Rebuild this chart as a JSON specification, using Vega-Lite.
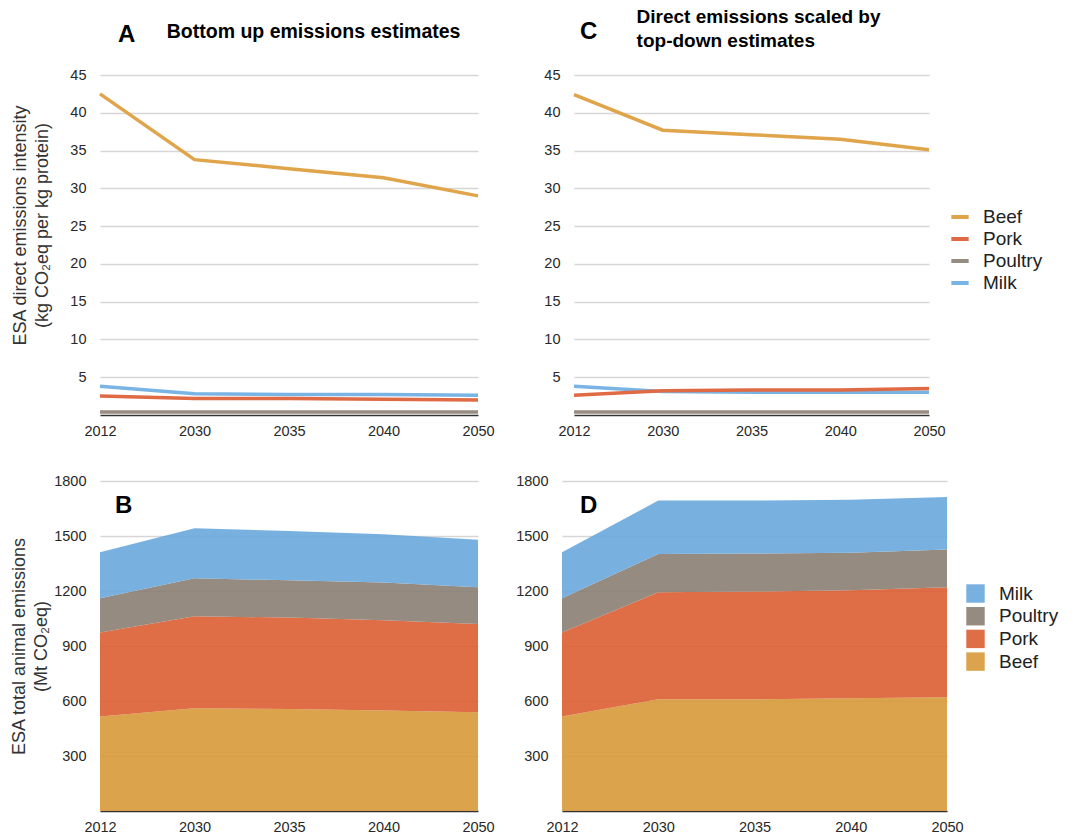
{
  "$schema": "https://vega.github.io/schema/vega-lite/v6.json",
  "padding": {"left": 10, "top": 8, "right": 0, "bottom": 0},
  "background": "white",
  "config": {
    "font": "Liberation Sans",
    "view": {"stroke": null},
    "axis": {"labelFont": "Liberation Sans", "labelFontSize": 14.5, "labelColor": "#282828", "titleFont": "Liberation Sans", "titleFontSize": 18, "titleFontWeight": "normal", "titleColor": "#333"},
    "axisX": {"domainColor": "#333", "domainWidth": 1.5, "ticks": false, "labelAngle": 0, "labelPadding": 9, "grid": false},
    "axisY": {"domain": false, "ticks": false, "grid": true, "gridColor": "#d6d6d6", "gridWidth": 1.5, "labelPadding": 14, "format": "d"},
    "legend": {"labelFont": "Liberation Sans", "labelFontSize": 19, "labelColor": "#222", "padding": 0},
    "title": {"font": "Liberation Sans", "color": "#000", "subtitleFont": "Liberation Sans", "subtitleColor": "#000"}
  },
  "datasets": {
    "intensityA": [
      {"year": "2012", "animal": "Milk", "value": 3.8},
      {"year": "2030", "animal": "Milk", "value": 2.8},
      {"year": "2035", "animal": "Milk", "value": 2.7},
      {"year": "2040", "animal": "Milk", "value": 2.7},
      {"year": "2050", "animal": "Milk", "value": 2.6},
      {"year": "2012", "animal": "Poultry", "value": 0.4},
      {"year": "2030", "animal": "Poultry", "value": 0.4},
      {"year": "2035", "animal": "Poultry", "value": 0.4},
      {"year": "2040", "animal": "Poultry", "value": 0.4},
      {"year": "2050", "animal": "Poultry", "value": 0.4},
      {"year": "2012", "animal": "Pork", "value": 2.5},
      {"year": "2030", "animal": "Pork", "value": 2.2},
      {"year": "2035", "animal": "Pork", "value": 2.2},
      {"year": "2040", "animal": "Pork", "value": 2.1},
      {"year": "2050", "animal": "Pork", "value": 2.0},
      {"year": "2012", "animal": "Beef", "value": 42.5},
      {"year": "2030", "animal": "Beef", "value": 33.8},
      {"year": "2035", "animal": "Beef", "value": 32.6},
      {"year": "2040", "animal": "Beef", "value": 31.4},
      {"year": "2050", "animal": "Beef", "value": 29.0}
    ],
    "intensityC": [
      {"year": "2012", "animal": "Milk", "value": 3.8},
      {"year": "2030", "animal": "Milk", "value": 3.1},
      {"year": "2035", "animal": "Milk", "value": 3.0},
      {"year": "2040", "animal": "Milk", "value": 3.0},
      {"year": "2050", "animal": "Milk", "value": 3.0},
      {"year": "2012", "animal": "Poultry", "value": 0.4},
      {"year": "2030", "animal": "Poultry", "value": 0.4},
      {"year": "2035", "animal": "Poultry", "value": 0.4},
      {"year": "2040", "animal": "Poultry", "value": 0.4},
      {"year": "2050", "animal": "Poultry", "value": 0.4},
      {"year": "2012", "animal": "Pork", "value": 2.6},
      {"year": "2030", "animal": "Pork", "value": 3.2},
      {"year": "2035", "animal": "Pork", "value": 3.3},
      {"year": "2040", "animal": "Pork", "value": 3.3},
      {"year": "2050", "animal": "Pork", "value": 3.5},
      {"year": "2012", "animal": "Beef", "value": 42.4},
      {"year": "2030", "animal": "Beef", "value": 37.7},
      {"year": "2035", "animal": "Beef", "value": 37.1},
      {"year": "2040", "animal": "Beef", "value": 36.5},
      {"year": "2050", "animal": "Beef", "value": 35.1}
    ],
    "totalB": [
      {"year": "2012", "animal": "Beef", "value": 515},
      {"year": "2030", "animal": "Beef", "value": 560},
      {"year": "2035", "animal": "Beef", "value": 556},
      {"year": "2040", "animal": "Beef", "value": 548},
      {"year": "2050", "animal": "Beef", "value": 538},
      {"year": "2012", "animal": "Pork", "value": 459},
      {"year": "2030", "animal": "Pork", "value": 502},
      {"year": "2035", "animal": "Pork", "value": 499},
      {"year": "2040", "animal": "Pork", "value": 492},
      {"year": "2050", "animal": "Pork", "value": 482},
      {"year": "2012", "animal": "Poultry", "value": 186},
      {"year": "2030", "animal": "Poultry", "value": 207},
      {"year": "2035", "animal": "Poultry", "value": 203},
      {"year": "2040", "animal": "Poultry", "value": 207},
      {"year": "2050", "animal": "Poultry", "value": 200},
      {"year": "2012", "animal": "Milk", "value": 251},
      {"year": "2030", "animal": "Milk", "value": 273},
      {"year": "2035", "animal": "Milk", "value": 269},
      {"year": "2040", "animal": "Milk", "value": 262},
      {"year": "2050", "animal": "Milk", "value": 260}
    ],
    "totalD": [
      {"year": "2012", "animal": "Beef", "value": 515},
      {"year": "2030", "animal": "Beef", "value": 609},
      {"year": "2035", "animal": "Beef", "value": 609},
      {"year": "2040", "animal": "Beef", "value": 615},
      {"year": "2050", "animal": "Beef", "value": 620},
      {"year": "2012", "animal": "Pork", "value": 459},
      {"year": "2030", "animal": "Pork", "value": 584},
      {"year": "2035", "animal": "Pork", "value": 588},
      {"year": "2040", "animal": "Pork", "value": 589},
      {"year": "2050", "animal": "Pork", "value": 600},
      {"year": "2012", "animal": "Poultry", "value": 186},
      {"year": "2030", "animal": "Poultry", "value": 209},
      {"year": "2035", "animal": "Poultry", "value": 207},
      {"year": "2040", "animal": "Poultry", "value": 205},
      {"year": "2050", "animal": "Poultry", "value": 206},
      {"year": "2012", "animal": "Milk", "value": 251},
      {"year": "2030", "animal": "Milk", "value": 291},
      {"year": "2035", "animal": "Milk", "value": 289},
      {"year": "2040", "animal": "Milk", "value": 289},
      {"year": "2050", "animal": "Milk", "value": 287}
    ]
  },
  "resolve": {"scale": {"color": "independent", "x": "independent", "y": "independent"}, "legend": {"color": "independent"}, "axis": {"x": "independent", "y": "independent"}},
  "spacing": 35,
  "vconcat": [
    {
      "spacing": 48,
      "resolve": {"scale": {"color": "independent", "x": "independent", "y": "independent"}, "legend": {"color": "independent"}},
      "hconcat": [
        {
          "width": 378, "height": 340,
          "data": {"name": "intensityA"},
          "title": {"text": "A", "subtitle": "\u200b\u00a0\u00a0\u00a0\u00a0\u00a0\u00a0\u00a0\u00a0\u00a0Bottom up emissions estimates", "anchor": "start", "frame": "group", "dx": 18, "fontSize": 24, "fontWeight": "bold", "subtitleFontSize": 19.5, "subtitleFontWeight": "bold", "subtitlePadding": -24, "offset": 19},
          "mark": {"type": "line", "strokeWidth": 3.5},
          "encoding": {
            "x": {"field": "year", "type": "ordinal", "sort": null, "scale": {"type": "point", "padding": 0}, "axis": {"title": null}},
            "y": {"field": "value", "type": "quantitative", "scale": {"domain": [0, 45], "nice": false}, "axis": {"values": [5, 10, 15, 20, 25, 30, 35, 40, 45], "title": ["ESA direct emissions intensity", "(kg CO\u2082eq per kg protein)"], "titleLineHeight": 22, "minExtent": 48, "maxExtent": 48, "titlePadding": 1, "titleY": 150}},
            "color": {"field": "animal", "type": "nominal", "scale": {"domain": ["Beef", "Pork", "Poultry", "Milk"], "range": ["#E0A44A", "#E06A44", "#978C82", "#79B4E4"]}, "legend": null}
          }
        },
        {
          "width": 355, "height": 340,
          "data": {"name": "intensityC"},
          "title": {"text": "C", "subtitle": ["\u200b\u00a0\u00a0\u00a0\u00a0\u00a0\u00a0\u00a0\u00a0\u00a0\u00a0\u2009Direct emissions scaled by", "\u200b\u00a0\u00a0\u00a0\u00a0\u00a0\u00a0\u00a0\u00a0\u00a0\u00a0\u2009top-down estimates"], "anchor": "start", "frame": "group", "dx": 6, "fontSize": 24, "fontWeight": "bold", "subtitleFontSize": 19, "subtitleFontWeight": "bold", "subtitleLineHeight": 24, "subtitlePadding": -36, "offset": 4},
          "mark": {"type": "line", "strokeWidth": 3.5},
          "encoding": {
            "x": {"field": "year", "type": "ordinal", "sort": null, "scale": {"type": "point", "padding": 0}, "axis": {"title": null}},
            "y": {"field": "value", "type": "quantitative", "scale": {"domain": [0, 45], "nice": false}, "axis": {"values": [5, 10, 15, 20, 25, 30, 35, 40, 45], "title": null}},
            "color": {"field": "animal", "type": "nominal", "scale": {"domain": ["Beef", "Pork", "Poultry", "Milk"], "range": ["#E0A44A", "#E06A44", "#978C82", "#79B4E4"]}, "legend": {"title": null, "orient": "none", "legendX": 375, "legendY": 131, "symbolType": "stroke", "symbolSize": 300, "symbolStrokeWidth": 4, "rowPadding": 1, "labelOffset": 12}}
          }
        }
      ]
    },
    {
      "spacing": 20,
      "resolve": {"scale": {"color": "independent", "x": "independent", "y": "independent"}, "legend": {"color": "independent"}},
      "hconcat": [
        {
          "width": 378, "height": 330,
          "data": {"name": "totalB"},
          "transform": [{"calculate": "indexof(['Beef','Pork','Poultry','Milk'], datum.animal)", "as": "stackRank"}],
          "title": {"text": "B", "anchor": "start", "frame": "group", "dx": 15, "fontSize": 24, "fontWeight": "bold", "offset": -45},
          "mark": {"type": "area", "opacity": 0.9},
          "encoding": {
            "x": {"field": "year", "type": "ordinal", "sort": null, "scale": {"type": "point", "padding": 0}, "axis": {"title": null}},
            "y": {"field": "value", "type": "quantitative", "stack": "zero", "scale": {"domain": [0, 1800], "nice": false}, "axis": {"values": [300, 600, 900, 1200, 1500, 1800], "title": ["ESA total animal emissions", "(Mt CO\u2082eq)"], "titleLineHeight": 22, "minExtent": 48, "maxExtent": 48, "titlePadding": 2}},
            "order": {"field": "stackRank", "type": "quantitative", "sort": "ascending"},
            "color": {"field": "animal", "type": "nominal", "scale": {"domain": ["Milk", "Poultry", "Pork", "Beef"], "range": ["#69A9DD", "#8A7E73", "#DC5E33", "#D79937"]}, "legend": null}
          }
        },
        {
          "width": 385, "height": 330,
          "data": {"name": "totalD"},
          "transform": [{"calculate": "indexof(['Beef','Pork','Poultry','Milk'], datum.animal)", "as": "stackRank"}],
          "title": {"text": "D", "anchor": "start", "frame": "group", "dx": 18, "fontSize": 24, "fontWeight": "bold", "offset": -45},
          "mark": {"type": "area", "opacity": 0.9},
          "encoding": {
            "x": {"field": "year", "type": "ordinal", "sort": null, "scale": {"type": "point", "padding": 0}, "axis": {"title": null}},
            "y": {"field": "value", "type": "quantitative", "stack": "zero", "scale": {"domain": [0, 1800], "nice": false}, "axis": {"values": [300, 600, 900, 1200, 1500, 1800], "title": null}},
            "order": {"field": "stackRank", "type": "quantitative", "sort": "ascending"},
            "color": {"field": "animal", "type": "nominal", "scale": {"domain": ["Milk", "Poultry", "Pork", "Beef"], "range": ["#69A9DD", "#8A7E73", "#DC5E33", "#D79937"]}, "legend": {"title": null, "orient": "none", "legendX": 404, "legendY": 103, "symbolType": "square", "symbolSize": 340, "symbolStrokeWidth": 0, "symbolOpacity": 0.9, "rowPadding": 2.7, "labelOffset": 14}}
          }
        }
      ]
    }
  ]
}
